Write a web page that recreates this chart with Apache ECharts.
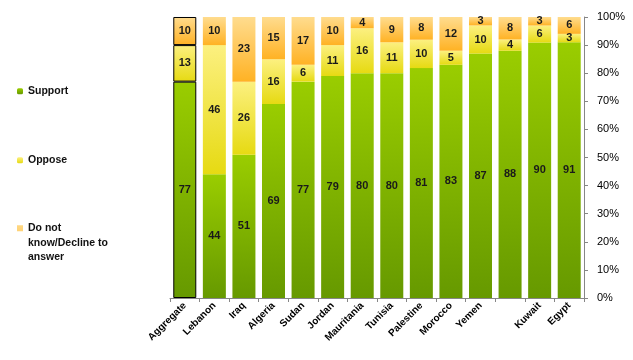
<!DOCTYPE html>
<html>
<head>
<meta charset="utf-8">
<script src="https://cdn.jsdelivr.net/npm/echarts@6/dist/echarts.min.js"></script>
<style>html,body{margin:0;padding:0;background:#fff}#c{width:633px;height:360px}</style>
</head>
<body>
<div id="c"></div>
<script>
var categories = ['Aggregate','Lebanon','Iraq','Algeria','Sudan','Jordan','Mauritania','Tunisia','Palestine','Morocco','Yemen','','Kuwait','Egypt'];
var support = [77,44,51,69,77,79,80,80,81,83,87,88,90,91];
var oppose = [13,46,26,16,6,11,16,11,10,5,10,4,6,3];
var dontKnow = [10,10,23,15,17,10,4,9,8,12,3,8,3,6];
var yTicks = ['0%','10%','20%','30%','40%','50%','60%','70%','80%','90%','100%'];

var totals = support.map(function(v,i){return v + oppose[i] + dontKnow[i];});
function norm(arr){
  return arr.map(function(v,i){
    var item = {value: v / totals[i] * 100, raw: v};
    if (i === 0) item.itemStyle = {borderColor:'#000', borderWidth:1};
    return item;
  });
}
function grad(top, bottom){
  return new echarts.graphic.LinearGradient(0,0,0,1,[{offset:0,color:top},{offset:1,color:bottom}]);
}
var labelStyle = {
  show:true, position:'inside', color:'#1a1a1a', fontSize:11, fontWeight:'bold',
  fontFamily:'Liberation Sans, sans-serif',
  formatter:function(p){return p.data.raw;}
};
var legendText = {fontSize:10.5, fontWeight:'bold', color:'#111', fontFamily:'Liberation Sans, sans-serif', lineHeight:14.5};

var chart = echarts.init(document.getElementById('c'));
chart.setOption({
  animation:false,
  grid:{left:170, right:49, top:17, bottom:62},
  legend:[
    {left:17, top:84, padding:0, orient:'vertical', itemWidth:6, itemHeight:6, data:['Support'], textStyle:legendText, selectedMode:false},
    {left:17, top:153, padding:0, orient:'vertical', itemWidth:6, itemHeight:6, data:['Oppose'], textStyle:legendText, selectedMode:false},
    {left:17, top:221, padding:0, orient:'vertical', itemWidth:6, itemHeight:43.5,
      icon:'path://M0,0h0.01v0.01h-0.01z M0,4.25h6v6h-6z M0,43.49h0.01v0.01h-0.01z',
      data:['Do not know/Decline to answer'],
      formatter:function(){return 'Do not\nknow/Decline to\nanswer';},
      textStyle:legendText, selectedMode:false}
  ],
  xAxis:{
    type:'category', data:categories,
    axisLine:{lineStyle:{color:'#868686'}},
    axisTick:{show:true, length:4, lineStyle:{color:'#868686'}},
    axisLabel:{rotate:45, interval:0, fontSize:10, fontWeight:'bold', color:'#000', fontFamily:'Liberation Sans, sans-serif', margin:6}
  },
  yAxis:{
    type:'value', position:'right', min:0, max:100, interval:10,
    axisLine:{show:true, lineStyle:{color:'#868686'}},
    axisTick:{show:true, length:4, lineStyle:{color:'#868686'}},
    splitLine:{show:false},
    axisLabel:{fontSize:11, color:'#000', fontFamily:'Liberation Sans, sans-serif', margin:13,
      formatter:function(v){return yTicks[Math.round(v/10)];}}
  },
  series:[
    {name:'Support', type:'bar', stack:'s', barWidth:23, data:norm(support),
      itemStyle:{color:grad('#9ACD00','#669900')}, label:labelStyle},
    {name:'Oppose', type:'bar', stack:'s', barWidth:23, data:norm(oppose),
      itemStyle:{color:grad('#FCF080','#E6DA12')}, label:labelStyle},
    {name:'Do not know/Decline to answer', type:'bar', stack:'s', barWidth:23, data:norm(dontKnow),
      itemStyle:{color:grad('#FFDC8E','#FFB224')}, label:labelStyle}
  ]
});
</script>
</body>
</html>
